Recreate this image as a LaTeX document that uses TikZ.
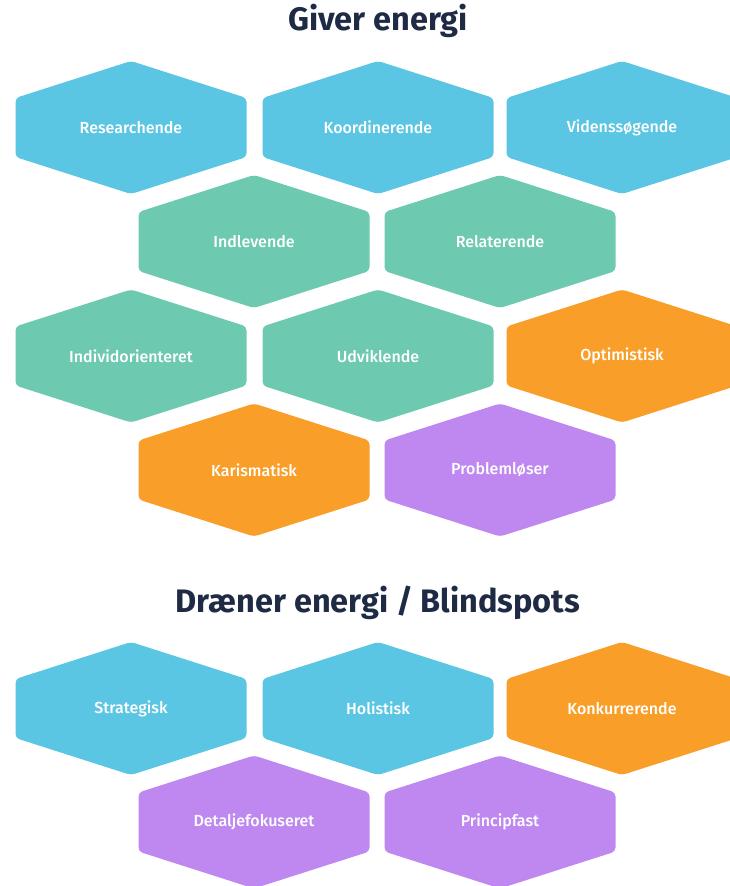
\documentclass[tikz,border=0pt]{standalone}
\usepackage{fontspec}
\setmainfont{Fira Sans}
\newfontfamily\lblfont{Fira Sans Medium}
\definecolor{hblue}{HTML}{5BC5E4}
\definecolor{hgreen}{HTML}{6DCAB0}
\definecolor{horange}{HTML}{F99E28}
\definecolor{hpurple}{HTML}{BF88F1}
\definecolor{navy}{HTML}{1F2A44}
\newcommand\hexa[5]{%
  \fill[#4, rounded corners=4pt] (#2-115.5,#3-29.5) -- (#2,#3-66.5) -- (#2+115.5,#3-29.5) -- (#2+115.5,#3+29.5) -- (#2,#3+66.5) -- (#2-115.5,#3+29.5) -- cycle;
  \node[lbl] (#1) at (#2,#3) {#5};}
\begin{document}
\begin{tikzpicture}[x=1pt,y=-1pt,
  lbl/.style={text=white,font=\lblfont\fontsize{16}{19}\selectfont},
  ttl/.style={text=navy,font=\fontsize{32.5}{38}\selectfont\bfseries}]
\useasboundingbox[fill=white] (0,0) rectangle (730,886);
\node[ttl] (t1) at (378,21) {Giver energi};
\hexa{r1a}{131}{127.5}{hblue}{Researchende}
\hexa{r1b}{378}{127.5}{hblue}{Koordinerende}
\hexa{r1c}{622}{127.5}{hblue}{Videnssøgende}
\hexa{r2a}{254}{241.5}{hgreen}{Indlevende}
\hexa{r2b}{500}{241.5}{hgreen}{Relaterende}
\hexa{r3a}{131}{356}{hgreen}{Individorienteret}
\hexa{r3b}{378}{356}{hgreen}{Udviklende}
\hexa{r3c}{622}{356}{horange}{Optimistisk}
\hexa{r4a}{254}{470}{horange}{Karismatisk}
\hexa{r4b}{500}{470}{hpurple}{Problemløser}
\node[ttl] (t2) at (378,603) {Dræner energi / Blindspots};
\hexa{s1a}{131}{708.5}{hblue}{Strategisk}
\hexa{s1b}{378}{708.5}{hblue}{Holistisk}
\hexa{s1c}{622}{708.5}{horange}{Konkurrerende}
\hexa{s2a}{254}{822}{hpurple}{Detaljefokuseret}
\hexa{s2b}{500}{822}{hpurple}{Principfast}
\end{tikzpicture}
\end{document}
